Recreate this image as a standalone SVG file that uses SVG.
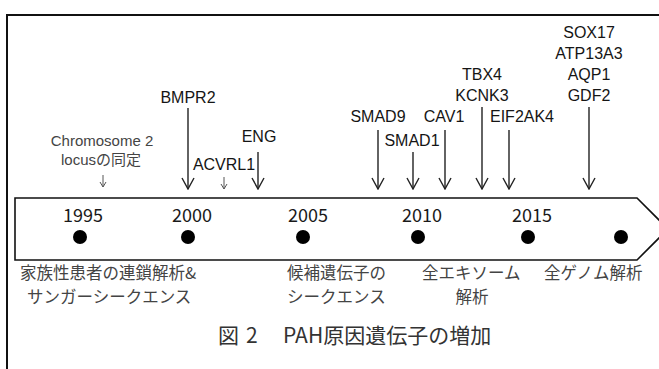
<svg xmlns="http://www.w3.org/2000/svg" width="659" height="369" viewBox="0 0 659 369">
<style>
.gene{font-family:"Liberation Sans",Arial,sans-serif;font-size:16px;fill:#151515;text-anchor:middle}
.grey{font-family:"Liberation Sans","Noto Sans CJK JP",sans-serif;font-size:15px;fill:#444;text-anchor:middle}
.year{font-family:"Noto Sans CJK JP",sans-serif;font-size:18px;fill:#1a1a1a;text-anchor:middle}
.jp{font-family:"Noto Sans CJK JP",sans-serif;font-size:16.5px;fill:#444}
.cap{font-family:"Noto Sans CJK JP",sans-serif;font-size:21px;fill:#333}
.arr{stroke:#222;stroke-width:1.4;fill:none;marker-end:url(#v)}
.small{stroke:#555;stroke-width:1;fill:none}
.dot{fill:#000}
</style>
<defs>
<marker id="v" markerUnits="userSpaceOnUse" viewBox="-12 -7 13 14" refX="0" refY="0" markerWidth="13" markerHeight="14" orient="auto">
<path d="M-11,-6 L0,0 L-11,6" fill="none" stroke="#222" stroke-width="1.4"/>
</marker>
</defs>
<rect x="0" y="0" width="659" height="369" fill="#fff"/>
<path d="M7,380 L7,15 L670,15" fill="none" stroke="#111" stroke-width="2"/>
<g id="timeline">
<polygon points="15,198 637,198 668,229 637,260 15,260" fill="#fff" stroke="#111" stroke-width="1.6"/>
</g>
<g id="y1995"><text class="year" x="83" y="222">1995</text><circle class="dot" cx="80" cy="237" r="7"/></g>
<g id="y2000"><text class="year" x="192" y="222">2000</text><circle class="dot" cx="188" cy="237" r="7"/></g>
<g id="y2005"><text class="year" x="308" y="222">2005</text><circle class="dot" cx="303" cy="237" r="7"/></g>
<g id="y2010"><text class="year" x="422" y="222">2010</text><circle class="dot" cx="418" cy="237" r="7"/></g>
<g id="y2015"><text class="year" x="532" y="222">2015</text><circle class="dot" cx="528" cy="237" r="7"/></g>
<g id="ynow"><circle class="dot" cx="621" cy="237" r="7"/></g>
<g id="chromosome"><text class="grey" x="102" y="146">Chromosome 2</text><text class="grey" x="101" y="165">locusの同定</text></g>
<g id="bmpr2"><text class="gene" x="188" y="103">BMPR2</text></g>
<g id="acvrl1"><text class="gene" x="224" y="170">ACVRL1</text></g>
<g id="eng"><text class="gene" x="259" y="142">ENG</text></g>
<g id="smad9"><text class="gene" x="378" y="122">SMAD9</text></g>
<g id="smad1"><text class="gene" x="412" y="146">SMAD1</text></g>
<g id="cav1"><text class="gene" x="444" y="122">CAV1</text></g>
<g id="tbx4"><text class="gene" x="482" y="80">TBX4</text><text class="gene" x="482" y="101">KCNK3</text></g>
<g id="eif2ak4"><text class="gene" x="522" y="122">EIF2AK4</text></g>
<g id="sox17"><text class="gene" x="589" y="38">SOX17</text><text class="gene" x="589" y="59">ATP13A3</text><text class="gene" x="589" y="80">AQP1</text><text class="gene" x="589" y="101">GDF2</text></g>
<g id="method1"><text class="jp" x="20" y="279">家族性患者の連鎖解析&amp;</text><text class="jp" x="27" y="303">サンガーシークエンス</text></g>
<g id="method2"><text class="jp" x="287" y="279">候補遺伝子の</text><text class="jp" x="287" y="303">シークエンス</text></g>
<g id="method3"><text class="jp" x="422" y="279">全エキソーム</text><text class="jp" x="472" y="303" text-anchor="middle">解析</text></g>
<g id="method4"><text class="jp" x="544" y="279">全ゲノム解析</text></g>
<g id="caption"><text class="cap" y="343"><tspan x="218">図</tspan><tspan x="246">2</tspan><tspan x="283">PAH原因遺伝子の増加</tspan></text></g>
<g id="connectors">
<line class="arr" x1="188" y1="108" x2="188" y2="189"/>
<line class="arr" x1="258" y1="152" x2="258" y2="189"/>
<line class="arr" x1="378" y1="130" x2="378" y2="189"/>
<line class="arr" x1="413" y1="152" x2="413" y2="189"/>
<line class="arr" x1="445" y1="130" x2="445" y2="189"/>
<line class="arr" x1="482" y1="107" x2="482" y2="189"/>
<line class="arr" x1="509" y1="130" x2="509" y2="189"/>
<line class="arr" x1="589" y1="107" x2="589" y2="189"/>
<path class="small" d="M103,175 L103,187 M100,182 L103,187 L106,182"/>
<path class="small" d="M224,177 L224,189 M221,184 L224,189 L227,184"/>
</g>
</svg>
